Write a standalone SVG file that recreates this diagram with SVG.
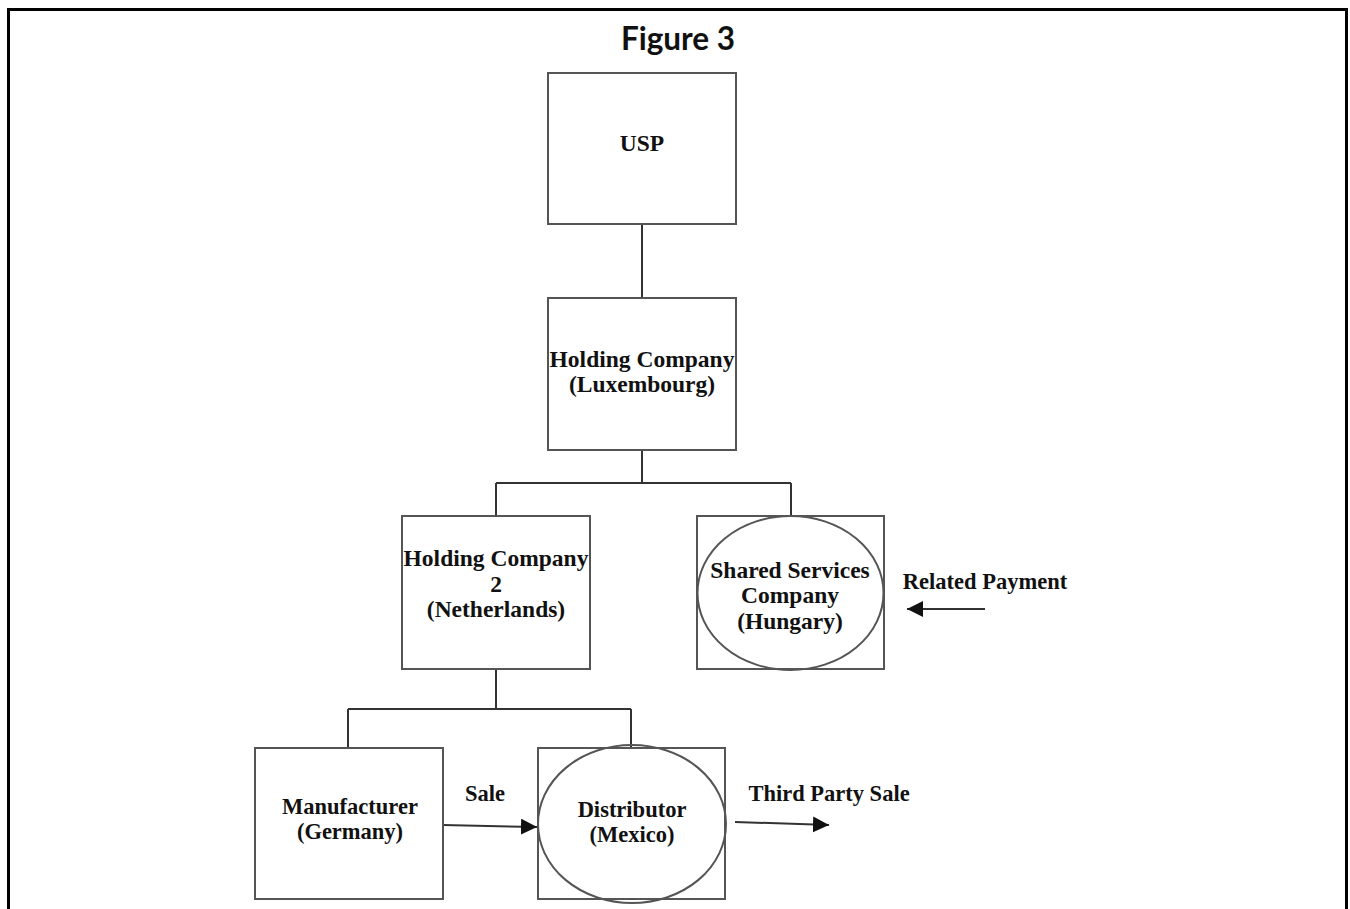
<svg xmlns="http://www.w3.org/2000/svg" width="1350" height="909" viewBox="0 0 1350 909">
<style>
.box{fill:#fff;stroke:#555;stroke-width:2}
.ell{fill:none;stroke:#555;stroke-width:2}
.ln{fill:none;stroke:#333;stroke-width:2}
.t{font-family:"Liberation Serif","Times New Roman",serif;font-weight:bold;font-size:22.5px;fill:#111;text-anchor:middle}
.big{font-size:23.5px}
.title{font-family:Lato,"Liberation Sans",sans-serif;font-weight:bold;font-size:31.5px;fill:#111;text-anchor:middle}
</style>
<defs>
<marker id="ah" viewBox="0 0 10 10" refX="10" refY="5" markerWidth="16" markerHeight="16" markerUnits="userSpaceOnUse" orient="auto">
<path d="M0,0 L10,5 L0,10 z" fill="#111"/>
</marker>
</defs>
<rect width="1350" height="909" fill="#fff"/>
<path d="M8.5,912 V9.5 H1346.5 V912" fill="none" stroke="#000" stroke-width="3"/>
<text class="title" x="678" y="50">Figure 3</text>
<g id="connectors">
<path class="ln" d="M642,224 V298"/>
<path class="ln" d="M642,450 V483 M496,483 H791 M496,483 V516 M791,483 V516"/>
<path class="ln" d="M496,669 V709 M348,709 H631 M348,709 V748 M631,709 V748"/>
<path class="ln" d="M443,825 L537,827" marker-end="url(#ah)"/>
<path class="ln" d="M735,822 L829,825" marker-end="url(#ah)"/>
<path class="ln" d="M985,609 L907,609" marker-end="url(#ah)"/>
</g>
<g id="usp">
<rect class="box" x="548" y="73" width="188" height="151"/>
<text class="t big" x="642" y="151">USP</text>
</g>
<g id="holding-lux">
<rect class="box" x="548" y="298" width="188" height="152"/>
<text class="t big" x="642" y="367">Holding Company</text>
<text class="t big" x="642" y="392">(Luxembourg)</text>
</g>
<g id="holding-nl">
<rect class="box" x="402" y="516" width="188" height="153"/>
<text class="t big" x="496" y="566">Holding Company</text>
<text class="t big" x="496" y="592">2</text>
<text class="t big" x="496" y="617">(Netherlands)</text>
</g>
<g id="shared-services">
<rect class="box" x="697" y="516" width="187" height="153"/>
<ellipse class="ell" cx="790.5" cy="593" rx="93" ry="77"/>
<text class="t big" x="790" y="578">Shared Services</text>
<text class="t big" x="790" y="603">Company</text>
<text class="t big" x="790" y="629">(Hungary)</text>
</g>
<g id="related-payment">
<text class="t" x="985" y="589">Related Payment</text>
</g>
<g id="manufacturer">
<rect class="box" x="255" y="748" width="188" height="151"/>
<text class="t" x="350" y="814">Manufacturer</text>
<text class="t" x="350" y="839">(Germany)</text>
</g>
<g id="distributor">
<rect class="box" x="538" y="748" width="187" height="151"/>
<ellipse class="ell" cx="632" cy="824" rx="94" ry="79"/>
<text class="t" x="632" y="817">Distributor</text>
<text class="t" x="632" y="842">(Mexico)</text>
</g>
<g id="labels">
<text class="t" x="485" y="801">Sale</text>
<text class="t" x="829" y="801">Third Party Sale</text>
</g>
</svg>
